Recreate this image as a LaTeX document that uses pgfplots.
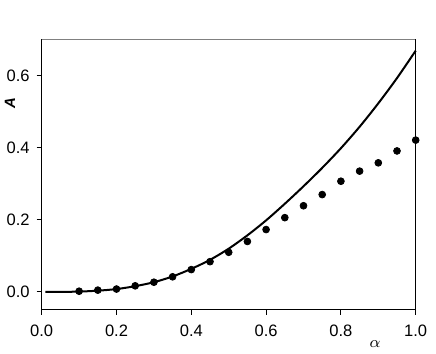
\documentclass[border=0pt]{standalone}
\usepackage{fontspec}
\setmainfont{Liberation Sans}
\usepackage{pgfplots}
\pgfplotsset{compat=1.18}
\begin{document}
\begin{tikzpicture}
\begin{axis}[
    name=ax,
    scale only axis,
    width=187bp, height=135.25bp,
    xmin=0, xmax=1, ymin=-0.05, ymax=0.7,
    axis x line*=bottom, axis y line*=left,
    axis line style={line width=0.5bp, -},
    xtick={0,0.2,0.4,0.6,0.8,1.0},
    ytick={0,0.2,0.4,0.6},
    tick align=outside, major tick length=2.5bp,
    tick style={black, line width=0.5bp},
    ticklabel style={font=\fontsize{8.3}{10}\selectfont},
    xticklabel style={yshift=-1.5bp},
    /pgf/number format/.cd, fixed, fixed zerofill, precision=1, assume math mode=true,
    /pgfplots/.cd,
    xlabel={$\alpha$},
    xlabel style={font=\fontsize{8.5}{10}\selectfont, at={(axis description cs:0.891,-0.125)}, anchor=center},
    ylabel={\textbf{\textit{A}}},
    ylabel style={font=\fontsize{7.5}{9}\selectfont, at={(axis description cs:-0.085,0.765)}, anchor=center},
    clip=false,
]
% model curve
\addplot[black, line width=1bp, smooth] coordinates {
    (0.01,0.0000) (0.05,0.0001) (0.10,0.0010) (0.15,0.0035) (0.20,0.0080)
    (0.25,0.0160) (0.30,0.0270) (0.35,0.0430) (0.40,0.0640) (0.45,0.0890)
    (0.50,0.1200) (0.55,0.1570) (0.60,0.1985) (0.65,0.2445) (0.70,0.2930)
    (0.75,0.3440) (0.80,0.3985) (0.85,0.4580) (0.90,0.5230) (0.95,0.5930)
    (1.00,0.6690)
};
% measured points
\addplot[only marks, mark=*, mark size=1.7bp, black] coordinates {
    (0.10,0.002) (0.15,0.005) (0.20,0.008) (0.25,0.017) (0.30,0.027)
    (0.35,0.042) (0.40,0.062) (0.45,0.084) (0.50,0.110) (0.55,0.140)
    (0.60,0.173) (0.65,0.206) (0.70,0.239) (0.75,0.270) (0.80,0.307)
    (0.85,0.335) (0.90,0.358) (0.95,0.391) (1.00,0.421)
};
\draw[gray, line width=0.5bp] (rel axis cs:0,1) -- (rel axis cs:1,1);
\draw[black, line width=0.5bp] (rel axis cs:1,0) -- (rel axis cs:1,1);
\end{axis}
\pgfresetboundingbox
\path ([shift={(-20.85bp,-22bp)}]ax.south west) rectangle ([shift={(10.15bp,19.75bp)}]ax.north east);
\end{tikzpicture}
\end{document}
